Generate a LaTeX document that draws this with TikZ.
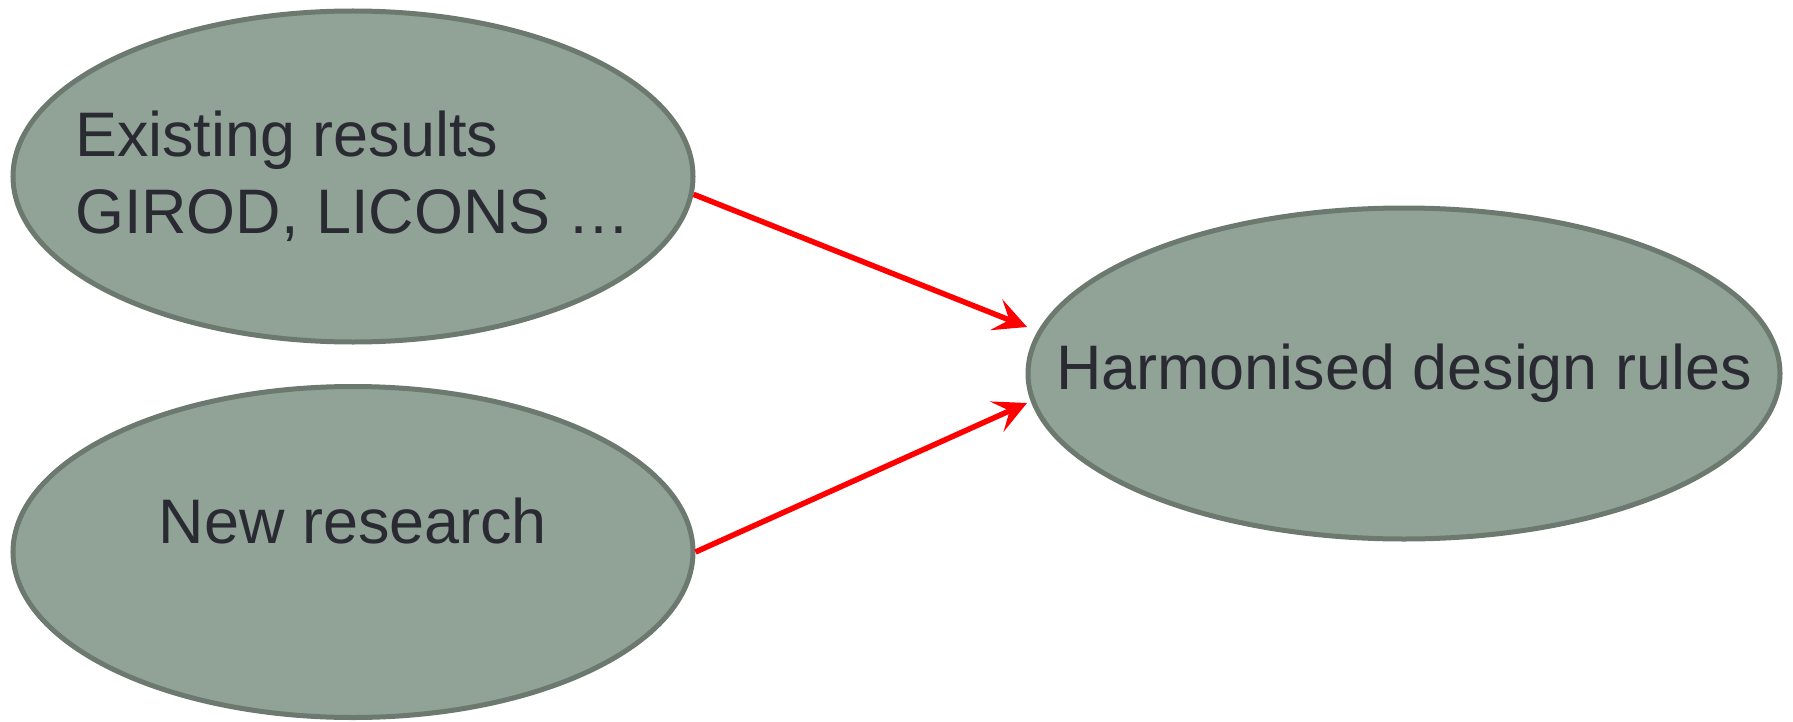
\documentclass[tikz,border=0pt]{standalone}
\usepackage{fontspec}
\setmainfont{Liberation Sans}
\usetikzlibrary{shapes.geometric,arrows.meta}
\definecolor{blobfill}{RGB}{145,162,151}
\definecolor{blobline}{RGB}{108,121,111}
\definecolor{blobtext}{RGB}{42,42,51}

\begin{document}
\begin{tikzpicture}[
    blob/.style={ellipse, draw=blobline, fill=blobfill, line width=0.5mm,
      minimum width=6.8cm, minimum height=3.31cm,
      inner xsep=-1.2cm, inner ysep=0pt,
      text=blobtext, font=\fontsize{17.9pt}{21.9pt}\selectfont},
    link/.style={red, line width=0.55mm,
      -{Stealth[length=3.3mm,width=3.3mm,inset=1.4mm]}}]
  \useasboundingbox (0,0) rectangle (17.93,7.21);
  \draw
    (3.53,5.445) node[blob, align=left] (0){Existing results\\GIROD, LICONS …}
    (3.53,1.69) node[blob, text depth=6.3mm] (1){New research}
    (14.04,3.475) node[blob, minimum width=7.52cm] (2){Harmonised design rules};
  \coordinate (2a) at (10.27,3.94);
  \coordinate (2b) at (10.27,3.18);
  \begin{scope}[link]
    \draw (0.-3) to (2a);
    \draw (1.east) to (2b);
  \end{scope}
\end{tikzpicture}
\end{document}
